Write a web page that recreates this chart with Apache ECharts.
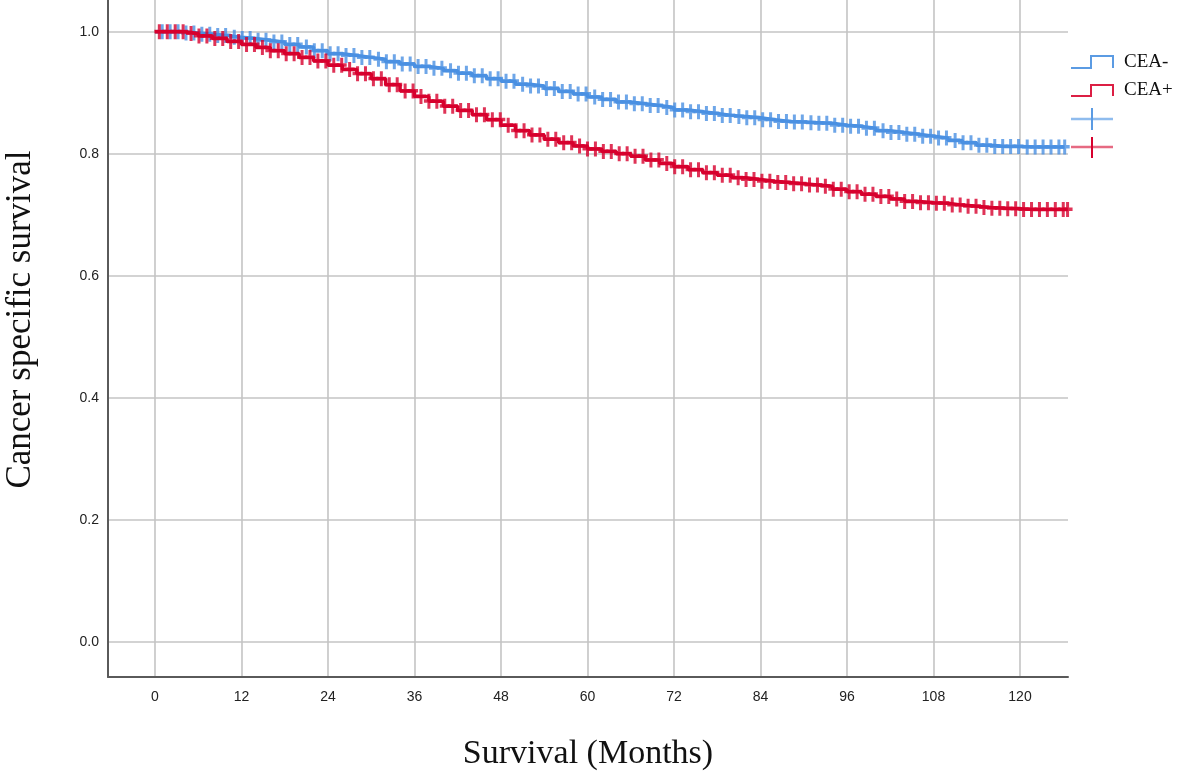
<!DOCTYPE html>
<html>
<head>
<meta charset="utf-8">
<title>Cancer specific survival by CEA</title>
<script src="https://cdn.jsdelivr.net/npm/echarts@6/dist/echarts.min.js"></script>
<style>
  html, body { margin: 0; padding: 0; background: #fff; }
  #km { width: 1181px; height: 774px; }
</style>
</head>
<body>
<div id="km"></div>
<script>
// survival estimates, one value every 2 months
var months = [0,2,4,6,8,10,12,14,16,18,20,22,24,26,28,30,32,34,36,38,40,42,44,46,48,50,52,54,56,58,60,
    62,64,66,68,70,72,74,76,78,80,82,84,86,88,90,92,94,96,98,100,102,104,106,108,110,112,114,116,118,120,122,124,126];
var ceaNeg = [1.000,1.000,0.998,0.996,0.994,0.991,0.989,0.986,0.983,0.979,0.975,0.969,0.964,0.961,0.958,0.955,
    0.951,0.947,0.943,0.940,0.936,0.932,0.928,0.923,0.919,0.914,0.911,0.907,0.902,0.898,0.893,
    0.889,0.885,0.882,0.879,0.876,0.872,0.869,0.866,0.863,0.861,0.859,0.856,0.853,0.852,0.851,
    0.850,0.847,0.845,0.842,0.838,0.835,0.832,0.829,0.826,0.822,0.818,0.814,0.812,0.812,0.811,0.811,0.811,0.811];
var ceaPos = [1.000,1.000,0.997,0.993,0.989,0.984,0.979,0.974,0.969,0.964,0.958,0.952,0.945,0.938,0.931,0.923,
    0.913,0.903,0.894,0.886,0.878,0.871,0.864,0.856,0.847,0.838,0.831,0.824,0.818,0.813,0.808,
    0.804,0.800,0.796,0.790,0.784,0.779,0.774,0.769,0.765,0.761,0.758,0.755,0.753,0.751,0.749,
    0.747,0.742,0.738,0.734,0.730,0.726,0.722,0.720,0.719,0.716,0.714,0.712,0.711,0.710,0.709,0.709,0.709,0.709];
var lastNeg = 126.2, lastPos = 126.6;

// censoring times (months)
var censorNeg = [1,2.1,3.2,4.3,5.4,6.5,7.6,8.7,9.8,11,12.1,13.2,14.3,15.4,16.5,17.6,18.7,19.8,21,22.1,23.2,24.3,
    25.4,26.5,27.6,28.7,29.8,31,32.1,33.2,34.3,35.4,36.5,37.6,38.7,39.8,41,42.1,43.2,44.3,45.4,46.5,47.6,48.7,
    49.8,51,52.1,53.2,54.3,55.4,56.5,57.6,58.7,59.8,61,62.1,63.2,64.3,65.4,66.5,67.6,68.7,69.8,71,72.1,73.2,
    74.3,75.4,76.5,77.6,78.7,79.8,81,82.1,83.2,84.3,85.4,86.5,87.6,88.7,89.8,91,92.1,93.2,94.3,95.4,96.5,97.6,
    98.7,99.8,101,102.1,103.2,104.3,105.4,106.5,107.6,108.7,109.8,111,112.1,113.2,114.3,115.4,116.5,117.6,
    118.7,119.8,121,122.1,123.2,124.3,125.4,126.2];
var censorPos = [0.6,1.7,2.8,3.9,5,6.1,7.2,8.3,9.4,10.5,11.6,12.7,13.8,14.9,16,17.1,18.2,19.3,20.4,21.5,22.6,
    23.7,24.8,25.9,27,28.1,29.2,30.3,31.4,32.5,33.6,34.7,35.8,36.9,38,39.1,40.2,41.3,42.4,43.5,44.6,45.7,46.8,
    47.9,49,50.1,51.2,52.3,53.4,54.5,55.6,56.7,57.8,58.9,60,61.1,62.2,63.3,64.4,65.5,66.6,67.7,68.8,69.9,71,
    72.1,73.2,74.3,75.4,76.5,77.6,78.7,79.8,80.9,82,83.1,84.2,85.3,86.4,87.5,88.6,89.7,90.8,91.9,93,94.1,95.2,
    96.3,97.4,98.5,99.6,100.7,101.8,102.9,104,105.1,106.2,107.3,108.4,109.5,110.6,111.7,112.8,113.9,115,116.1,
    117.2,118.3,119.4,120.5,121.6,122.7,123.8,124.9,126,126.6];

var xTicks = [0,12,24,36,48,60,72,84,96,108,120];
var yTicks = [0,0.2,0.4,0.6,0.8,1.0];

var blue = '#4a90e2';
var red = '#d7002d';

function curve(t, s, last) {
    var pts = t.map(function (m, i) { return [m, s[i]]; });
    pts.push([last, s[s.length - 1]]);
    return pts;
}

function survAt(t, s, c) {
    var v = s[0];
    for (var i = 0; i < t.length; i++) {
        if (t[i] <= c) v = s[i];
    }
    return v;
}

function censorPts(t, s, times) {
    return times.map(function (c) { return [c, survAt(t, s, c)]; });
}

var plus = 'path://M3.5,0H6.5V5.5H10V9H6.5V15H3.5V9H0V5.5H3.5Z';

var myChart = echarts.init(document.getElementById('km'));
var option = {
    animation: false,
    backgroundColor: '#fff',
    grid: { left: 108, right: 113, top: 0, bottom: 97, outerBoundsMode: 'none', containLabel: false },
    xAxis: {
        type: 'value',
        min: -6.52,
        max: 126.66,
        name: 'Survival (Months)',
        nameLocation: 'middle',
        nameGap: 60,
        nameTextStyle: { fontFamily: 'Liberation Serif', fontSize: 34, color: '#111' },
        axisLine: { show: true, onZero: false, lineStyle: { color: '#5a5a5a', width: 2 } },
        axisTick: { show: false, customValues: xTicks },
        axisLabel: {
            customValues: xTicks,
            margin: 13,
            fontFamily: 'Liberation Sans',
            fontSize: 14,
            color: '#222'
        },
        splitLine: { show: true, lineStyle: { color: '#c4c4c4', width: 1.6 } }
    },
    yAxis: {
        type: 'value',
        min: -0.057,
        max: 1.052,
        name: 'Cancer specific survival',
        nameLocation: 'middle',
        nameGap: 70,
        nameTextStyle: { fontFamily: 'Liberation Serif', fontSize: 35, color: '#111', padding: [0, 0, 0, 38] },
        axisLine: { show: true, onZero: false, lineStyle: { color: '#5a5a5a', width: 2 } },
        axisTick: { show: false, customValues: yTicks },
        axisLabel: {
            customValues: yTicks,
            margin: 9,
            fontFamily: 'Liberation Sans',
            fontSize: 14,
            color: '#222',
            formatter: function (v) { return v.toFixed(1); }
        },
        splitLine: { show: true, lineStyle: { color: '#c4c4c4', width: 1.6 } }
    },
    series: [
        {
            name: 'CEA-',
            type: 'line',
            step: 'end',
            showSymbol: false,
            lineStyle: { color: blue, width: 3.5 },
            data: curve(months, ceaNeg, lastNeg),
            z: 3
        },
        {
            name: 'CEA+',
            type: 'line',
            step: 'end',
            showSymbol: false,
            lineStyle: { color: red, width: 3.5 },
            data: curve(months, ceaPos, lastPos),
            z: 4
        },
        {
            name: 'CEA- censored',
            type: 'scatter',
            symbol: plus,
            symbolSize: [10, 15],
            itemStyle: { color: blue },
            data: censorPts(months, ceaNeg, censorNeg),
            z: 3
        },
        {
            name: 'CEA+ censored',
            type: 'scatter',
            symbol: plus,
            symbolSize: [10, 15],
            itemStyle: { color: red },
            data: censorPts(months, ceaPos, censorPos),
            z: 4
        }
    ],
    graphic: [
        { type: 'polyline', shape: { points: [[1071, 68], [1091, 68], [1091, 56], [1113, 56], [1113, 68]] },
          style: { stroke: '#5b9be3', lineWidth: 2, fill: null } },
        { type: 'text', left: 1124, top: 53, style: { text: 'CEA-', font: '19px "Liberation Serif"', fill: '#111' } },
        { type: 'polyline', shape: { points: [[1071, 96], [1091, 96], [1091, 85], [1113, 85], [1113, 96]] },
          style: { stroke: '#dc1f44', lineWidth: 2, fill: null } },
        { type: 'text', left: 1124, top: 81, style: { text: 'CEA+', font: '19px "Liberation Serif"', fill: '#111' } },
        { type: 'line', shape: { x1: 1071, y1: 119, x2: 1113, y2: 119 }, style: { stroke: '#8fbcee', lineWidth: 2.5 } },
        { type: 'line', shape: { x1: 1092, y1: 108, x2: 1092, y2: 130 }, style: { stroke: '#5b9be3', lineWidth: 2 } },
        { type: 'line', shape: { x1: 1071, y1: 147, x2: 1113, y2: 147 }, style: { stroke: '#e66a82', lineWidth: 2.5 } },
        { type: 'line', shape: { x1: 1092, y1: 137, x2: 1092, y2: 158 }, style: { stroke: '#d7002d', lineWidth: 2 } }
    ]
};
myChart.setOption(option);
window.addEventListener('resize', function () {
    myChart.resize();
});
</script>
</body>
</html>
